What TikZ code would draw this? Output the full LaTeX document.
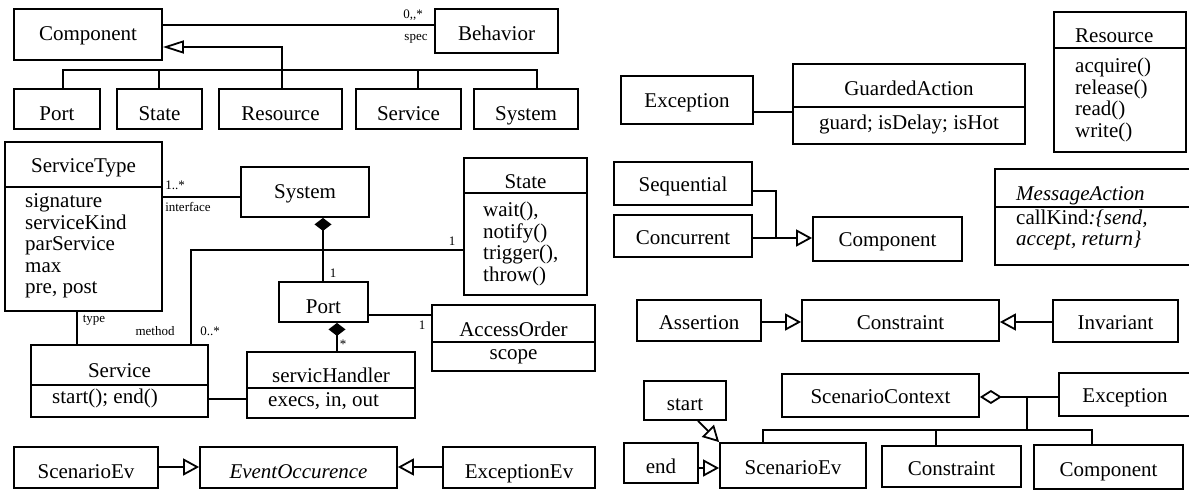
\documentclass[tikz,border=0pt]{standalone}
\usepackage{fontspec}
\setmainfont{Liberation Serif}
\usetikzlibrary{arrows.meta}

\tikzset{
  box/.style={draw, line width=1.8pt, inner sep=0pt},
  txt/.style={inner sep=0pt, font=\fontsize{21}{21.5}\selectfont},
  list/.style={txt, align=left, anchor=west},
  lbl/.style={inner sep=0pt, font=\fontsize{13}{13}\selectfont},
  link/.style={line width=1.8pt},
  gen/.style={link, -{Triangle[open, length=16pt, width=17pt]}},
  genlong/.style={link, -{Triangle[open, length=21pt, width=13pt]}},
  compo/.style={link, -{Diamond[length=13pt, width=17pt]}},
  aggr/.style={link, -{Diamond[open, length=22pt, width=14pt]}},
}

% plain frame from (x1,y1) to (x2,y2)
\newcommand\umlframe[5]{%
  \node[box, minimum width={(#4)-(#2)}, minimum height={(#5)-(#3)}] (#1)
    at ({((#2)+(#4))/2},{((#3)+(#5))/2}) {};}
% frame with one centred name, #7 = baseline of the name
\newcommand\umlbox[7]{%
  \umlframe{#1}{#2}{#3}{#4}{#5}%
  \node[txt, anchor=base] (#1-t) at ({((#2)+(#4))/2},#7) {#6};}
% compartment separator at height #2
\newcommand\umlsep[2]{\draw[link] (#1.west |- 0,#2) -- (#1.east |- 0,#2);}

\begin{document}
\begin{tikzpicture}[x=1pt,y=-1pt]
\useasboundingbox (0,0) rectangle (1189,490);
\fill[white] (0,0) rectangle (1189,490);

% ---------- component hierarchy
\umlbox{comp1}{14}{9}{162}{60}{Component}{40}
\umlbox{beh}{435}{9}{558}{53}{Behavior}{40.5}
\umlbox{port1}{14}{89}{100}{129}{Port}{120}
\umlbox{state1}{117}{89}{202}{129}{State}{120}
\umlbox{res1}{219}{89}{342}{129}{Resource}{120}
\umlbox{serv1}{356}{89}{461}{129}{Service}{120}
\umlbox{sys1}{474}{89}{578}{129}{System}{120}
\draw[link] (comp1.east |- 0,25) -- (beh.west |- 0,25);
\node[lbl] (beh-mult) at (413,15) {0{,}{,}*};
\node[lbl] (beh-role) at (416,39) {spec};
\coordinate (hub1) at (282,70);
\draw[link] (port1.north -| 63,0) |- (hub1);
\draw[link] (state1.north -| 159,0) |- (hub1);
\draw[link] (res1.north -| 282,0) -- (hub1);
\draw[link] (serv1.north -| 418,0) |- (hub1);
\draw[link] (sys1.north -| 537,0) |- (hub1);
\draw[genlong] (hub1) |- (comp1.east |- 0,47);

% ---------- service structure
\umlframe{st}{5}{142}{162}{311}
\umlsep{st}{187}
\node[txt, anchor=base] (st-t) at (83.5,172.5) {ServiceType};
\node[list] (st-a) at (25,246) {signature\\serviceKind\\parService\\max\\pre, post};

\umlbox{sys2}{241}{167}{369}{217}{System}{198}
\draw[link] (st.east |- 0,197) -- (sys2.west |- 0,197);
\node[lbl] (sys2-mult) at (175,185) {1..*};
\node[lbl] (sys2-role) at (188,207) {interface};

\umlframe{state2}{464}{158}{587}{295}
\umlsep{state2}{193}
\node[txt, anchor=base] (state2-t) at (525.5,188) {State};
\node[list] (state2-a) at (483,244) {wait(),\\notify()\\trigger(),\\throw()};

\umlbox{port2}{279}{282}{368}{322}{Port}{313}
\draw[compo] (port2.north -| 323,0) -- (sys2.south -| 323,0);
\node[lbl] (port2-mult) at (333,273) {1};

\umlframe{ao}{432}{305}{595}{371}
\umlsep{ao}{342}
\node[txt, anchor=base] (ao-t) at (513.5,336.5) {AccessOrder};
\node[txt, anchor=base] (ao-a) at (513.5,359) {scope};
\draw[link] (port2.east |- 0,315) -- (ao.west |- 0,315);
\node[lbl] (ao-mult) at (422,325) {1};

\umlframe{sh}{247}{352}{415}{418}
\umlsep{sh}{388}
\node[txt, anchor=base] (sh-t) at (331,382) {servicHandler};
\node[txt, anchor=base west] (sh-a) at (268,406) {execs, in, out};
\draw[compo] (sh.north -| 337,0) -- (port2.south -| 337,0);
\node[lbl] (sh-mult) at (343,344) {*};

\umlframe{serv2}{31}{345}{208}{417}
\umlsep{serv2}{385}
\node[txt, anchor=base] (serv2-t) at (119.5,377) {Service};
\node[txt, anchor=base west] (serv2-a) at (52,403) {start(); end()};
\draw[link] (st.south -| 77,0) -- (serv2.north -| 77,0);
\node[lbl] (serv2-type) at (94,320) {type};
\draw[link] (state2.west |- 0,250) -| (serv2.north -| 191,0);
\node[lbl] (state2-mult) at (452,241) {1};
\node[lbl] (serv2-role) at (155,331) {method};
\node[lbl] (serv2-mult) at (210,331) {0..*};
\draw[link] (serv2.east |- 0,399) -- (sh.west |- 0,399);

% ---------- events
\umlbox{sev1}{14}{447}{158}{488}{ScenarioEv}{478}
\umlbox{eo}{200}{447}{397}{488}{\textit{EventOccurence}}{478}
\umlbox{exev}{443}{447}{595}{488}{ExceptionEv}{478}
\draw[gen] (sev1.east |- 0,467) -- (eo.west |- 0,467);
\draw[gen] (exev.west |- 0,467) -- (eo.east |- 0,467);

% ---------- actions and resources
\umlbox{exc1}{621}{76}{753}{124}{Exception}{107}
\umlframe{ga}{793}{64}{1025}{144}
\umlsep{ga}{107}
\node[txt, anchor=base] (ga-t) at (909,95) {GuardedAction};
\node[txt, anchor=base] (ga-a) at (909,129) {guard; isDelay; isHot};
\draw[link] (exc1.east |- 0,112) -- (ga.west |- 0,112);

\umlframe{res2}{1054}{12}{1186}{152}
\umlsep{res2}{48}
\node[txt, anchor=base west] (res2-t) at (1075,42) {Resource};
\node[list] (res2-a) at (1075,100) {acquire()\\release()\\read()\\write()};

\umlbox{seq}{614}{162}{752}{205}{Sequential}{191}
\umlbox{conc}{614}{215}{752}{257}{Concurrent}{244.5}
\umlbox{comp2}{813}{217}{962}{261}{Component}{246}
\coordinate (hub2) at (776,238);
\draw[link] (seq.east |- 0,191) -| (hub2);
\draw[gen] (conc.east |- hub2) -- (comp2.west |- hub2);

\umlframe{ma}{995}{169}{1191}{265}
\umlsep{ma}{207}
\node[txt, anchor=base west] (ma-t) at (1016,200) {\textit{MessageAction}};
\node[list] (ma-a) at (1016,230) {callKind\textit{:\{send,}\\\textit{accept, return\}}};

% ---------- constraints
\umlbox{asrt}{637}{300}{761}{341}{Assertion}{329.5}
\umlbox{con1}{802}{300}{999}{341}{Constraint}{329.5}
\umlbox{inv}{1053}{300}{1178}{342}{Invariant}{329.5}
\draw[gen] (asrt.east |- 0,322) -- (con1.west |- 0,322);
\draw[gen] (inv.west |- 0,322) -- (con1.east |- 0,322);

% ---------- scenario context
\umlbox{sc}{782}{374}{979}{417}{ScenarioContext}{403.5}
\umlbox{exc2}{1059}{373}{1191}{416}{Exception}{402.5}
\umlbox{start}{644}{381}{726}{420}{start}{410.5}
\umlbox{endb}{624}{443}{698}{483}{end}{473.5}
\umlbox{sev2}{720}{443}{866}{488}{ScenarioEv}{474.5}
\umlbox{con2}{882}{446}{1021}{487}{Constraint}{475.5}
\umlbox{comp3}{1034}{445}{1183}{489}{Component}{476.5}
\draw[aggr] (exc2.west |- 0,397) -- (sc.east |- 0,397);
\coordinate (hub3) at (1027,397);
\coordinate (hub4) at (1027,430);
\draw[link] (hub3) -- (hub4);
\draw[link] (sev2.north -| 763,0) |- (hub4);
\draw[link] (con2.north -| 936,0) |- (hub4);
\draw[link] (comp3.north -| 1092,0) |- (hub4);
\draw[gen] (endb.east |- 0,468) -- (sev2.west |- 0,468);
\draw[gen] (start.south -| 698,0) -- (sev2.north west);
\end{tikzpicture}
\end{document}
